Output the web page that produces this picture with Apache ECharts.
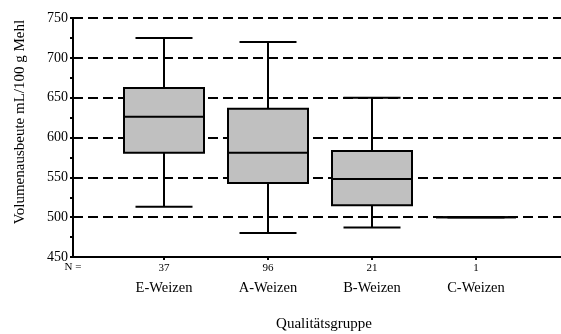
<!doctype html>
<html>
<head>
    <meta charset="utf-8">
    <script src="https://cdn.jsdelivr.net/npm/echarts@6/dist/echarts.min.js"></script>
</head>
<body style="margin: 0; background: #fff">
    <div id="container" style="width: 561px; height: 334px"></div>
    <script type="text/javascript">
        var categories = ['E-Weizen', 'A-Weizen', 'B-Weizen', 'C-Weizen'];
        var counts = [37, 96, 21, 1];
        var whiskerLow = [513, 480, 487, 500];
        var q1 = [581, 543, 515, 500];
        var median = [626, 581, 548, 500];
        var q3 = [662, 636, 583, 500];
        var whiskerHigh = [725, 720, 650, 500];
        var yTicks = [450, 500, 550, 600, 650, 700, 750];

        var serif = '"Liberation Serif", "DejaVu Serif", serif';
        var boxData = categories.map(function (c, i) {
            return [i, whiskerLow[i], q1[i], median[i], q3[i], whiskerHigh[i]];
        });

        function renderBox(params, api) {
            var i = api.value(0);
            var lo = api.coord([i, api.value(1)]);
            var b1 = api.coord([i, api.value(2)]);
            var md = api.coord([i, api.value(3)]);
            var b3 = api.coord([i, api.value(4)]);
            var hi = api.coord([i, api.value(5)]);
            var cx = lo[0], bw = 80, cw = 57;
            var line = { stroke: '#000', lineWidth: 2 };
            return {
                type: 'group',
                children: [
                    { type: 'line', shape: { x1: cx, y1: hi[1], x2: cx, y2: b3[1] }, style: line },
                    { type: 'line', shape: { x1: cx, y1: b1[1], x2: cx, y2: lo[1] }, style: line },
                    { type: 'line', shape: { x1: cx - cw / 2, y1: hi[1], x2: cx + cw / 2, y2: hi[1] }, style: line },
                    { type: 'line', shape: { x1: cx - cw / 2, y1: lo[1], x2: cx + cw / 2, y2: lo[1] }, style: line },
                    { type: 'rect', shape: { x: cx - bw / 2, y: b3[1], width: bw, height: b1[1] - b3[1] },
                      style: { fill: '#c0c0c0', stroke: '#000', lineWidth: 2 } },
                    { type: 'line', shape: { x1: cx - bw / 2, y1: md[1], x2: cx + bw / 2, y2: md[1] }, style: line }
                ]
            };
        }

        var myChart = echarts.init(document.getElementById('container'));
        var option = {
            animation: false,
            grid: [
                { left: 73, right: 0, top: 18, bottom: 77 },
                { left: 112, right: 33, top: 18, bottom: 77 }
            ],
            xAxis: [
                {
                    gridIndex: 0, type: 'value', min: 0, max: 1,
                    axisLine: { show: true, lineStyle: { color: '#000', width: 2 } },
                    axisTick: { show: false }, axisLabel: { show: false }, splitLine: { show: false }
                },
                {
                    gridIndex: 1, type: 'category', data: categories,
                    axisLine: { show: false },
                    axisTick: { show: true, alignWithLabel: true, length: 3, lineStyle: { color: '#000', width: 2 } },
                    axisLabel: {
                        margin: 2,
                        formatter: function (v, i) { return '{n|' + counts[i] + '}\n{c|' + v + '}'; },
                        rich: {
                            n: { fontFamily: serif, fontSize: 11, color: '#000', lineHeight: 18 },
                            c: { fontFamily: serif, fontSize: 14.5, color: '#000', lineHeight: 22 }
                        }
                    }
                }
            ],
            yAxis: [
                {
                    gridIndex: 0, type: 'value', min: 450, max: 750, interval: 50,
                    axisLine: { show: true, lineStyle: { color: '#000', width: 2 } },
                    axisTick: { show: true, length: 3, lineStyle: { color: '#000', width: 2 } },
                    minorTick: { show: true, splitNumber: 2, length: 3, lineStyle: { color: '#000', width: 2 } },
                    axisLabel: { fontFamily: serif, fontSize: 14, color: '#000', margin: 5,
                        formatter: function (v) { return yTicks.indexOf(v) >= 0 ? String(v) : ''; } },
                    splitLine: { show: true, lineStyle: { color: '#000', width: 2, type: [10, 5] } }
                },
                {
                    gridIndex: 1, type: 'value', min: 450, max: 750, interval: 50, show: false
                }
            ],
            graphic: [
                { type: 'text', x: 20, y: 122, rotation: Math.PI / 2,
                  style: { text: 'Volumenausbeute mL/100 g Mehl', font: '15px ' + serif, fill: '#000',
                           textAlign: 'center', textVerticalAlign: 'middle' } },
                { type: 'text', x: 73, y: 267,
                  style: { text: 'N =', font: '11px ' + serif, fill: '#000',
                           textAlign: 'center', textVerticalAlign: 'middle' } },
                { type: 'text', x: 324, y: 324,
                  style: { text: 'Qualitätsgruppe', font: '15px ' + serif, fill: '#000',
                           textAlign: 'center', textVerticalAlign: 'middle' } }
            ],
            series: [
                {
                    type: 'custom', xAxisIndex: 1, yAxisIndex: 1, z: 5,
                    renderItem: renderBox,
                    encode: { x: 0, y: [1, 2, 3, 4, 5] },
                    data: boxData
                }
            ]
        };
        myChart.setOption(option);
    </script>
</body>
</html>
